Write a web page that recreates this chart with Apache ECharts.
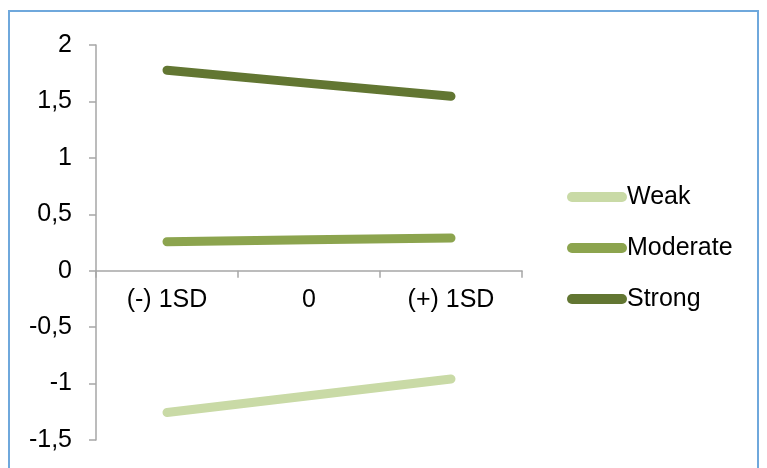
<!DOCTYPE html>
<html>
<head>
<meta charset="utf-8">
<script src="https://cdn.jsdelivr.net/npm/echarts@6/dist/echarts.min.js"></script>
<style>
  html, body { margin: 0; padding: 0; background: #fff; }
  #chart { width: 767px; height: 468px; }
</style>
</head>
<body>
<div id="chart"></div>
<script>
// Moderator levels along the x axis
const categories = ['(-) 1SD', '0', '(+) 1SD'];

// Simple slopes for each strength group
const seriesNames = ['Weak', 'Moderate', 'Strong'];
const weak = [-1.256, -1.108, -0.96];
const moderate = [0.257, 0.274, 0.29];
const strong = [1.776, 1.66, 1.545];

// Y axis range and step (labels use a decimal comma)
const yMin = -1.5;
const yMax = 2;
const yStep = 0.5;

const colors = ['#C9DAA6', '#8CA44E', '#627632'];
const fontFamily = '"Liberation Sans", Arial, sans-serif';
const axisGray = '#A6A6A6';

const chart = echarts.init(document.getElementById('chart'), null, { renderer: 'canvas' });

const values = [weak, moderate, strong];

chart.setOption({
  animation: false,
  backgroundColor: '#ffffff',
  color: colors,
  textStyle: { fontFamily: fontFamily },
  graphic: [{
    type: 'rect',
    silent: true,
    shape: { x: 9, y: 11, width: 749, height: 470 },
    style: { fill: 'none', stroke: '#6FA8DC', lineWidth: 2 }
  }],
  grid: { left: 96, right: 245, top: 45, bottom: 28, containLabel: false, outerBoundsMode: 'none' },
  legend: {
    orient: 'vertical',
    left: 562,
    top: 179,
    itemWidth: 60,
    itemHeight: 10,
    itemGap: 25,
    icon: 'path://M5,0 L55,0 A5,5 0 0 1 55,10 L5,10 A5,5 0 0 1 5,0 Z',
    textStyle: { fontSize: 25, color: '#000', fontFamily: fontFamily, lineHeight: 26, padding: [0, 0, 0, -5] },
    data: seriesNames
  },
  xAxis: {
    type: 'category',
    data: categories,
    boundaryGap: true,
    axisLine: { onZero: false, lineStyle: { color: axisGray, width: 1.5 } },
    axisTick: { show: true, length: 7, inside: false, lineStyle: { color: axisGray, width: 1.5 } },
    axisLabel: { fontSize: 25, color: '#000', margin: 17, fontFamily: fontFamily },
    splitLine: { show: false }
  },
  yAxis: {
    type: 'value',
    min: yMin,
    max: yMax,
    interval: yStep,
    axisLine: { show: true, lineStyle: { color: axisGray, width: 1.5 } },
    axisTick: { show: true, length: 7, lineStyle: { color: axisGray, width: 1.5 } },
    axisLabel: {
      fontSize: 25,
      color: '#000',
      margin: 24,
      fontFamily: fontFamily,
      formatter: function (v) { return String(Math.round(v * 10) / 10).replace('.', ','); }
    },
    splitLine: { show: false }
  },
  series: seriesNames.map(function (name, i) {
    return {
      name: name,
      type: 'line',
      data: values[i],
      symbol: 'none',
      showSymbol: false,
      lineStyle: { width: 9, color: colors[i], cap: 'round', join: 'round' },
      itemStyle: { color: colors[i] }
    };
  })
});

// Move the category axis (line, ticks and labels together) up to the y = 0 level
const zeroPx = chart.convertToPixel({ yAxisIndex: 0 }, 0);
const bottomPx = chart.convertToPixel({ yAxisIndex: 0 }, yMin);
chart.setOption({ xAxis: { offset: -(bottomPx - zeroPx) } });
</script>
</body>
</html>
